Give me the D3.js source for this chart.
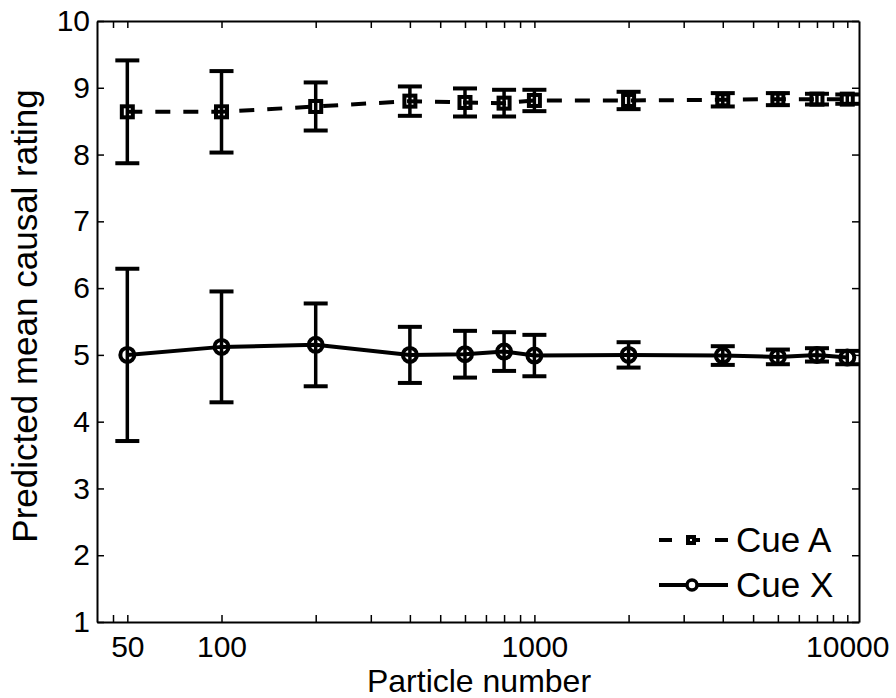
<!DOCTYPE html>
<html>
<head>
<meta charset="utf-8">
<script src="https://cdn.jsdelivr.net/npm/d3@7"></script>
<style>
  body { margin: 0; background: #fff; }
  text { font-family: "Liberation Sans", Arial, Helvetica, sans-serif; fill: #000; }
</style>
</head>
<body>
<svg id="chart"></svg>
<script>
// values
const particles = [50, 100, 200, 400, 600, 800, 1000, 2000, 4000, 6000, 8000, 10000];

const cueAMean = [8.64, 8.64, 8.72, 8.80, 8.78, 8.77, 8.81, 8.81, 8.82, 8.83, 8.83, 8.83];
const cueAErr  = [0.77, 0.61, 0.36, 0.22, 0.21, 0.20, 0.16, 0.13, 0.10, 0.09, 0.08, 0.07];

const cueXMean = [5.00, 5.12, 5.15, 5.00, 5.01, 5.05, 4.99, 5.00, 4.99, 4.97, 5.00, 4.96];
const cueXErr  = [1.29, 0.83, 0.62, 0.42, 0.35, 0.29, 0.31, 0.19, 0.14, 0.11, 0.10, 0.10];

const xTicks = [45, 50, 100, 200, 300, 400, 500, 600, 700, 800, 900,
                1000, 2000, 3000, 4000, 5000, 6000, 7000, 8000, 9000, 10000];
const xTickLabels = [50, 100, 1000, 10000];
const yTicks = [1, 2, 3, 4, 5, 6, 7, 8, 9, 10];

const seriesNames = ["Cue A", "Cue X"];

const width = 896;
const height = 698;
const tickFont = 30;
const labelFont = 32;

const svg = d3.select("#chart")
    .attr("width", width)
    .attr("height", height);

svg.append("rect")
    .attr("width", width)
    .attr("height", height)
    .attr("fill", "#fff");

const x = d3.scaleLog()
    .domain([40, 10900])
    .range([97, 859]);

const y = d3.scaleLinear()
    .domain([1, 10])
    .range([622, 21]);

const series = [
    { name: seriesNames[0], mean: cueAMean, err: cueAErr, dash: "15,13", marker: "square" },
    { name: seriesNames[1], mean: cueXMean, err: cueXErr, dash: null, marker: "circle" }
];

// axes (box with inward ticks on all sides)
const fmt = d => xTickLabels.includes(d) ? String(d) : "";

const axBottom = svg.append("g")
    .attr("transform", `translate(0,${y(1)})`)
    .call(d3.axisBottom(x).tickValues(xTicks).tickFormat(fmt).tickSizeInner(-7).tickSizeOuter(0).tickPadding(14));

const axTop = svg.append("g")
    .attr("transform", `translate(0,${y(10)})`)
    .call(d3.axisTop(x).tickValues(xTicks).tickFormat("").tickSizeInner(-7).tickSizeOuter(0));

const axLeft = svg.append("g")
    .attr("transform", `translate(${x.range()[0]},0)`)
    .call(d3.axisLeft(y).tickValues(yTicks).tickFormat(d3.format("d")).tickSizeInner(-7).tickSizeOuter(0).tickPadding(7));

const axRight = svg.append("g")
    .attr("transform", `translate(${x.range()[1]},0)`)
    .call(d3.axisRight(y).tickValues(yTicks).tickFormat("").tickSizeInner(-7).tickSizeOuter(0));

[axBottom, axTop, axLeft, axRight].forEach(g => {
    g.select(".domain").attr("stroke", "#000").attr("stroke-width", 2);
    g.selectAll(".tick line").attr("stroke", "#000").attr("stroke-width", 1.5);
    g.selectAll(".tick text")
        .attr("font-size", tickFont)
        .attr("font-family", null)
        .attr("fill", "#000");
});

svg.append("text")
    .attr("x", 479)
    .attr("y", 692)
    .attr("text-anchor", "middle")
    .attr("font-size", labelFont)
    .text("Particle number");

svg.append("text")
    .attr("transform", "translate(37,316) rotate(-90)")
    .attr("text-anchor", "middle")
    .attr("font-size", 35)
    .text("Predicted mean causal rating");

// data
const line = d3.line()
    .x((d, i) => x(particles[i]))
    .y(d => y(d));

series.forEach(s => {
    const g = svg.append("g");

    g.append("path")
        .datum(s.mean)
        .attr("d", line)
        .attr("fill", "none")
        .attr("stroke", "#000")
        .attr("stroke-width", 4)
        .attr("stroke-dasharray", s.dash);

    const bars = g.selectAll(".bar")
        .data(particles)
        .enter()
        .append("g");

    bars.append("line")
        .attr("x1", d => x(d))
        .attr("x2", d => x(d))
        .attr("y1", (d, i) => y(s.mean[i] - s.err[i]))
        .attr("y2", (d, i) => y(s.mean[i] + s.err[i]))
        .attr("stroke", "#000")
        .attr("stroke-width", 3.5);

    [-1, 1].forEach(sign => {
        bars.append("line")
            .attr("x1", d => x(d) - 12)
            .attr("x2", d => x(d) + 12)
            .attr("y1", (d, i) => y(s.mean[i] + sign * s.err[i]))
            .attr("y2", (d, i) => y(s.mean[i] + sign * s.err[i]))
            .attr("stroke", "#000")
            .attr("stroke-width", 4);
    });

    if (s.marker === "square") {
        bars.append("rect")
            .attr("x", d => x(d) - 5.5)
            .attr("y", (d, i) => y(s.mean[i]) - 5.5)
            .attr("width", 11)
            .attr("height", 11)
            .attr("fill", "none")
            .attr("stroke", "#000")
            .attr("stroke-width", 4);
    } else {
        bars.append("circle")
            .attr("cx", d => x(d))
            .attr("cy", (d, i) => y(s.mean[i]))
            .attr("r", 7)
            .attr("fill", "none")
            .attr("stroke", "#000")
            .attr("stroke-width", 4);
    }
});

// legend
const legend = svg.append("g");
const legendY = [540, 585];

series.forEach((s, i) => {
    const ly = legendY[i];
    legend.append("line")
        .attr("x1", 659)
        .attr("x2", 728)
        .attr("y1", ly)
        .attr("y2", ly)
        .attr("stroke", "#000")
        .attr("stroke-width", 4)
        .attr("stroke-dasharray", s.dash ? "13,15" : null);

    if (s.marker === "square") {
        legend.append("rect")
            .attr("x", 688)
            .attr("y", ly - 3)
            .attr("width", 6)
            .attr("height", 6)
            .attr("fill", "#fff")
            .attr("stroke", "#000")
            .attr("stroke-width", 4);
    } else {
        legend.append("circle")
            .attr("cx", 692)
            .attr("cy", ly)
            .attr("r", 5)
            .attr("fill", "#fff")
            .attr("stroke", "#000")
            .attr("stroke-width", 3.5);
    }

    legend.append("text")
        .attr("x", 736)
        .attr("y", ly + 12)
        .attr("font-size", 35)
        .text(s.name);
});
</script>
</body>
</html>
